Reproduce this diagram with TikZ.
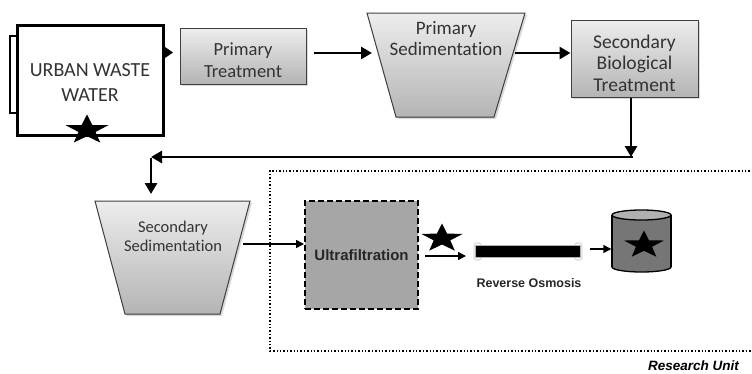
\documentclass[tikz,border=0pt]{standalone}
\usepackage{fontspec}
\setmainfont{Carlito}[Ligatures=NoCommon]
\newfontfamily\arialf{Liberation Sans}
\usetikzlibrary{shadows,arrows.meta,shapes.geometric}
\definecolor{txtgray}{HTML}{333333}
\definecolor{boxtop}{HTML}{EDEDED}
\definecolor{boxbot}{HTML}{B4B4B4}
\definecolor{ufgray}{HTML}{A6A6A6}
\definecolor{cylbody}{HTML}{767676}
\definecolor{cyltop}{HTML}{B0B0B0}
\tikzset{
  graybox/.style={draw=black!75, line width=1pt, top color=boxtop, bottom color=boxbot,
    drop shadow={opacity=0.3, shadow xshift=2pt, shadow yshift=-2pt}, inner sep=0pt},
  trapez/.style={draw=black!75, line width=1pt, top color=boxtop, bottom color=boxbot,
    drop shadow={opacity=0.3, shadow xshift=2pt, shadow yshift=-2pt}},
  traptext/.style={text=txtgray, align=center, inner sep=0pt},
  bigarrow/.style={line width=2.8pt, -{Triangle[length=11pt, width=12pt]}},
  thinarrow/.style={line width=1.4pt, -{Triangle[length=8pt, width=8pt]}},
  blackstar/.style={star, star points=5, star point ratio=2.5, fill=black, inner sep=0pt,
    minimum size=31pt, xscale=1.45},
}
\begin{document}
\begin{tikzpicture}[x=1pt,y=-1pt]
\useasboundingbox (0,0) rectangle (752,373);

% Urban waste water
\draw[line width=2pt] (17,36) -- (10,36) -- (10,113) -- (17,113);
\node[draw, line width=3pt, fill=white, minimum width=146pt, minimum height=110pt, inner sep=0pt] (uww) at (90.5,80.5) {};
\node[traptext, font=\fontsize{20}{25}\selectfont] (uwwt) at (90,83) {URBAN WASTE\\WATER};
\node[blackstar] (star1) at (87,130) {};
\fill (uww.east |- 0,47) -- ++(8,5.5) -- ++(-8,5.5) -- cycle;

% Primary treatment
\node[graybox, minimum width=126pt, minimum height=56pt] (pt) at (243,56) {};
\node[traptext, font=\fontsize{18.5}{22}\selectfont] (ptt) at (243,60.5) {Primary\\Treatment};

% Primary sedimentation
\filldraw[trapez] (367,13) -- (525,13) -- (494,117) -- (396,117) -- cycle;
\node[traptext, font=\fontsize{19}{21}\selectfont] (psed) at (446,38.5) {Primary\\Sedimentation};
\coordinate (psedL) at (372,53);
\coordinate (psedR) at (515,53);
\draw[bigarrow] ([xshift=7pt]pt.east |- psedL) -- (psedL);

% Secondary biological treatment
\node[graybox, minimum width=127pt, minimum height=77pt] (sbt) at (634.5,58.5) {};
\node[traptext, font=\fontsize{19.5}{21.5}\selectfont] (sbtt) at (634.5,63) {Secondary\\Biological\\Treatment};
\draw[bigarrow] (psedR) -- (sbt.west |- psedR);

% Return line
\coordinate (c1) at (631,157);
\coordinate (c2) at (151,157);
\draw[bigarrow] (c1 |- sbt.south) -- (c1);
\draw[bigarrow] ([xshift=2pt]c1) -- (c2);
\draw[bigarrow] ([yshift=-1.4pt]c2) -- (151,194);

% Secondary sedimentation
\filldraw[trapez] (95,201) -- (250,201) -- (220,314) -- (125,314) -- cycle;
\node[traptext, font=\fontsize{16.5}{19.5}\selectfont] (ssed) at (173,236.5) {Secondary\\Sedimentation};
\coordinate (ssedR) at (243,244);

% Research unit frame
\draw[dotted, line width=1.4pt] (760,171) -- (270,171) -- (270,351) -- (760,351);
\node[anchor=east, font=\arialf\bfseries\itshape\fontsize{13.5}{15}\selectfont, inner sep=0pt] (ru) at (739,366) {Research Unit};

% Ultrafiltration
\node[draw, fill=ufgray, line width=2pt, dash pattern=on 6pt off 3pt, minimum width=113pt, minimum height=108pt, inner sep=0pt,
  font=\arialf\bfseries\fontsize{15}{17}\selectfont, text=black!85] (uf) at (361.5,255) {Ultrafiltration};
\draw[thinarrow] (ssedR) -- (uf.west |- ssedR);

% Star + arrow to RO
\node[blackstar, minimum size=30pt] (star2) at (442,238.5) {};
\coordinate (roin) at (466,256);
\draw[thinarrow] ([xshift=6pt]uf.east |- roin) -- (roin);

% Reverse osmosis membrane
\draw[gray!50, line width=0.6pt, rounded corners=1.5pt] (474,243) rectangle (481,260);
\draw[gray!50, line width=0.6pt, rounded corners=1.5pt] (575,243) rectangle (582,260);
\node[fill=black, draw=gray!60, line width=0.5pt, minimum width=105pt, minimum height=12pt, inner sep=0pt] (ro) at (527.5,251) {};
\node[font=\arialf\bfseries\fontsize{12.5}{14}\selectfont, text=black!85, inner sep=0pt] (rol) at (529,283) {Reverse Osmosis};

% Storage tank
\node[minimum width=60pt, minimum height=62pt, inner sep=0pt] (cyl) at (641.5,241) {};
\filldraw[fill=cylbody, draw=black, line width=1.3pt] (641.5,267) ellipse [x radius=29.5, y radius=5];
\fill[cylbody] (612,215) rectangle (671,267);
\draw[line width=1.3pt] (612,215) -- (612,267) (671,215) -- (671,267);
\filldraw[fill=cyltop, draw=black, line width=1.3pt] (641.5,215) ellipse [x radius=29.5, y radius=5];
\node[blackstar, minimum size=29pt] (star3) at (644,245) {};
\draw[thinarrow] (590,249) -- (cyl.west |- 0,249);
\end{tikzpicture}
\end{document}
